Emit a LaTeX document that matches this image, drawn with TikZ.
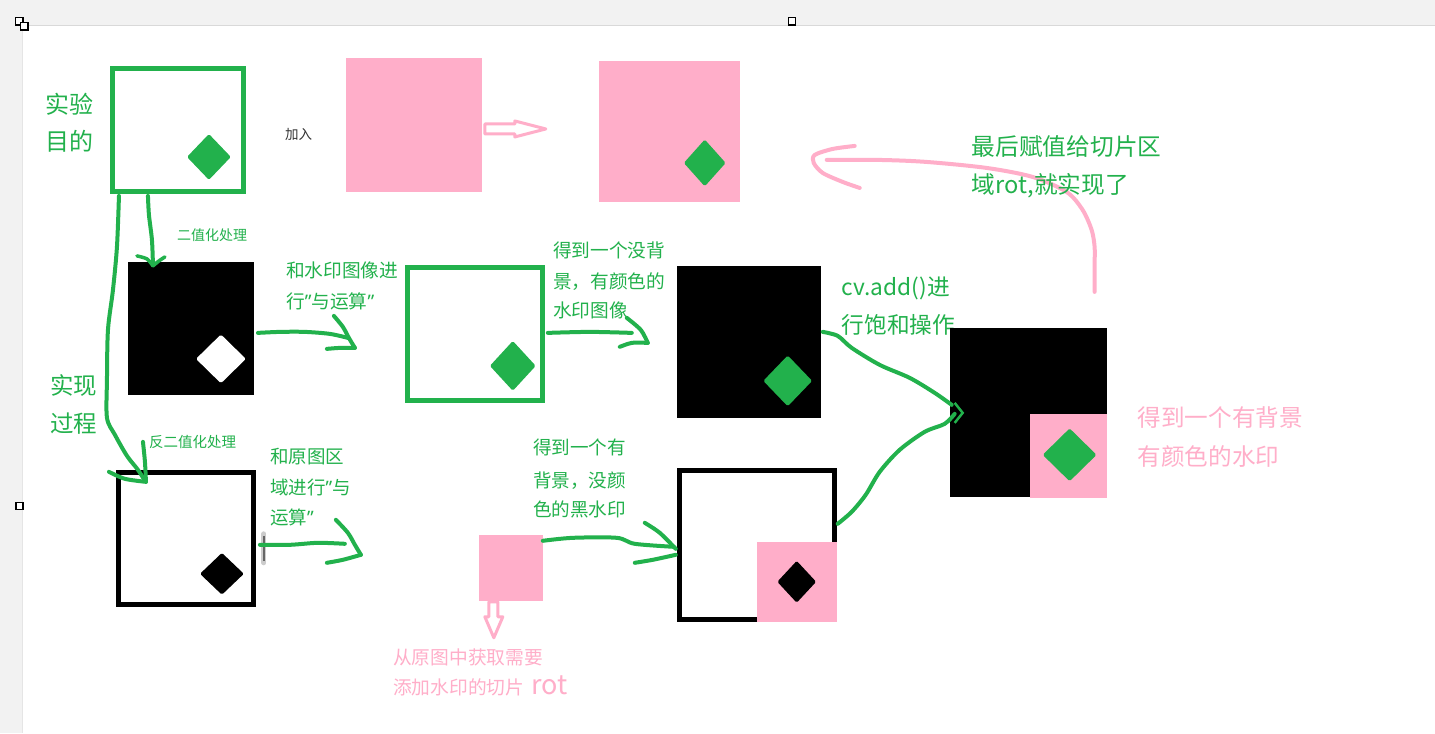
\documentclass[tikz,border=0pt]{standalone}
\usepackage{fontspec}
\setmainfont{Noto Sans CJK SC}
\newfontfamily\qf{Noto Sans}
\usetikzlibrary{shapes.geometric}
\definecolor{pgreen}{HTML}{22B14C}
\definecolor{ppink}{HTML}{FFAEC9}
\definecolor{bggray}{HTML}{F2F2F2}
\tikzset{
  fs/.style={font=\fontsize{#1}{#1}\selectfont},
  gtxt/.style={text=pgreen, anchor=base west, inner sep=0},
  ptxt/.style={text=ppink, anchor=base west, inner sep=0},
  stroke/.style={draw=pgreen, line width=4, line cap=round, line join=round},
  pstroke/.style={draw=ppink, line width=4, line cap=round, line join=round},
  gbox/.style={draw=pgreen, line width=5, fill=white, inner sep=0},
  kbox/.style={draw=black, line width=5, fill=white, inner sep=0},
  bbox/.style={fill=black, draw=none, inner sep=0},
  pbox/.style={fill=ppink, draw=none, inner sep=0},
  dmd/.style={diamond, draw=none, inner sep=0, rounded corners=1.5},
  hollow/.style={draw=ppink, line width=3, fill=white, line join=round},
  handle/.style={draw=black, line width=1.2, fill=white}
}
\begin{document}
\begin{tikzpicture}[x=1pt,y=-1pt]
% background
\fill[bggray] (0,0) rectangle (1435,733);
\fill[white] (23,26) rectangle (1435,733);
\draw[black!15, line width=1] (23,25.5) -- (1435,25.5);
\draw[black!10, line width=1] (22.5,26) -- (22.5,733);
\useasboundingbox (0,0) rectangle (1435,733);
% handles
\draw[handle] (15.5,17.5) rectangle (23,25);
\draw[handle] (20.5,22.5) rectangle (28,30);
\draw[handle] (788.5,17.5) rectangle (795.5,25);
\draw[handle] (16,503) rectangle (23,510);

% pink return curve
\draw[pstroke] plot[smooth] coordinates {(1095,292) (1095,265) (1095,247) (1092,230) (1083,210) (1067,192) (1033,177) (987,168) (927,162) (880,160) (827,160)};
\draw[pstroke] plot[smooth] coordinates {(855,146) (833,149) (815,155) (814,163) (823,173) (843,182) (860,188)};

% texts
\node[gtxt, fs=24] (t1a) at (45,114) {实验};
\node[gtxt, fs=24] (t1b) at (45,151) {目的};
\node[anchor=base west, inner sep=0, text=black!80, fs=13.5] (jr) at (285,140) {加入};
\node[gtxt, fs=14] (ez) at (177,241) {二值化处理};
\node[gtxt, fs=18.7] (h1) at (286,278) {和水印图像进};
\node[gtxt, fs=18.7] (h2) at (286,309) {行{\qf ”}与运算{\qf ”}};
\node[gtxt, fs=18.7] (m1) at (553,258) {得到一个没背};
\node[gtxt, fs=18.7] (m2) at (553,289) {景，有颜色的};
\node[gtxt, fs=18.7] (m3) at (553,318) {水印图像};
\node[gtxt, fs=22.7] (c1) at (842,296) {cv.add()进};
\node[gtxt, fs=22.7] (c2) at (842,334) {行饱和操作};
\node[gtxt, fs=23.7] (z1) at (972,156) {最后赋值给切片区};
\node[gtxt, fs=23.7] (z2) at (972,194) {域rot,就实现了};
\node[gtxt, fs=23.5] (s1) at (50,395) {实现};
\node[gtxt, fs=23.5] (s2) at (50,433) {过程};
\node[gtxt, fs=14.5] (fz) at (149,448) {反二值化处理};
\node[gtxt, fs=18.5] (y1) at (270,464) {和原图区};
\node[gtxt, fs=18.5] (y2) at (270,495) {域进行{\qf ”}与};
\node[gtxt, fs=18.5] (y3) at (270,525) {运算{\qf ”}};
\node[gtxt, fs=18.6] (n1) at (533,455) {得到一个有};
\node[gtxt, fs=18.6] (n2) at (533,488) {背景，没颜};
\node[gtxt, fs=18.6] (n3) at (533,517) {色的黑水印};
\node[ptxt, fs=23.6] (r1) at (1138,427) {得到一个有背景};
\node[ptxt, fs=23.6] (r2) at (1138,466) {有颜色的水印};
\node[ptxt, fs=18.75] (q1) at (393,665) {从原图中获取需要};
\node[ptxt, fs=18.75] (q2) at (393,695) {添加水印的切片\hspace{7pt}{\fontsize{27}{27}\selectfont rot}};

% boxes
\node[gbox, minimum width=131, minimum height=123] (A) at (178,130) {};
\node[dmd, fill=pgreen, minimum width=44, minimum height=46] (dA) at (209,157) {};
\node[pbox, minimum width=136, minimum height=134] (P1) at (414,125) {};
\node[pbox, minimum width=141, minimum height=141] (P2) at (669.5,131.5) {};
\node[dmd, fill=pgreen, minimum width=42, minimum height=47] (dP2) at (705,163) {};
\node[bbox, minimum width=126, minimum height=133] (B1) at (191,328.5) {};
\node[dmd, fill=white, minimum width=50, minimum height=49] (dB1) at (221,359) {};
\node[gbox, minimum width=135, minimum height=133] (C) at (475,334) {};
\node[dmd, fill=pgreen, minimum width=46, minimum height=50] (dC) at (513,366) {};
\node[bbox, minimum width=144, minimum height=152] (B3) at (749,342) {};
\node[dmd, fill=pgreen, minimum width=49, minimum height=51] (dB3) at (788,381) {};
\node[bbox, minimum width=157, minimum height=169] (B4) at (1028.5,412.5) {};
\node[pbox, minimum width=77, minimum height=84] (P4) at (1068.5,456) {};
\node[dmd, fill=pgreen, minimum width=54, minimum height=53] (dB4) at (1070,455) {};
\node[kbox, minimum width=135, minimum height=132] (D) at (186,538.5) {};
\node[dmd, fill=black, minimum width=44, minimum height=42] (dD) at (222,574) {};
\node[pbox, minimum width=64, minimum height=66] (P3) at (511,568) {};
\node[kbox, minimum width=155, minimum height=149] (E) at (757,545) {};
\node[pbox, minimum width=80, minimum height=80] (P5) at (797,582) {};
\node[dmd, fill=black, minimum width=39, minimum height=42] (dE) at (797,582) {};

% gray blurred mark
\draw[black!20, line width=5, line cap=round] (264,534) -- (264,563);
\draw[black!60, line width=2] (264,536) -- (264,561);

% pink hollow arrows
\draw[hollow] (485,124) -- (515,124) -- (515,121) -- (546,129) -- (515,137) -- (515,134) -- (485,134) -- cycle;
\draw[hollow] (489,602) -- (498,602) -- (498,617) -- (503,617) -- (494,638) -- (485,617) -- (489,617) -- cycle;

% green hand-drawn arrows
% A -> B1
\draw[stroke] plot[smooth] coordinates {(148,196) (149,215) (152,240) (153,265)};
\draw[stroke, line width=3.5] plot[smooth] coordinates {(137,256) (147,259) (153,266)};
\draw[stroke, line width=3.5] plot[smooth] coordinates {(165,257) (159,261) (153,266)};
% A -> D
\draw[stroke] plot[smooth] coordinates {(119,196) (117,247) (113,290) (108,330) (107,380) (107,418) (115,435) (127,456) (138,470) (145,481)};
\draw[stroke] plot[smooth] coordinates {(143,442) (145,462) (146,482)};
\draw[stroke] plot[smooth] coordinates {(109,472) (125,479) (146,482)};
% B1 -> C
\draw[stroke] plot[smooth] coordinates {(258,333) (280,332) (305,332) (330,334) (348,338)};
\draw[stroke] plot[smooth] coordinates {(334,316) (343,327) (349,338) (355,348)};
\draw[stroke] plot[smooth] coordinates {(327,349) (340,348) (355,348)};
% C -> B3
\draw[stroke] plot[smooth] coordinates {(548,333) (590,332) (632,333)};
\draw[stroke] plot[smooth] coordinates {(627,318) (641,330) (648,343)};
\draw[stroke] plot[smooth] coordinates {(620,347) (632,343) (648,343)};
% B3 -> B4
\draw[stroke] plot[smooth] coordinates {(823,332) (838,336) (852,348) (880,365) (910,378) (935,393) (952,405)};
% E -> B4
\draw[stroke] plot[smooth] coordinates {(838,524) (852,512) (866,495) (880,472) (900,450) (925,432) (945,424) (955,414)};
\draw[pgreen, line width=2.5] (955,403) -- (963,413) -- (955,423);
% D -> (and)
\draw[stroke] plot[smooth] coordinates {(260,545) (290,545) (318,543) (345,544)};
\draw[stroke] plot[smooth] coordinates {(336,520) (348,533) (355,545) (361,555)};
\draw[stroke] plot[smooth] coordinates {(327,563) (343,560) (361,555)};
% P3 -> E
\draw[stroke] plot[smooth] coordinates {(543,541) (573,538) (617,538) (635,544) (674,547)};
\draw[stroke] plot[smooth] coordinates {(645,523) (660,533) (676,549)};
\draw[stroke] plot[smooth] coordinates {(635,563) (653,560) (676,555)};
\end{tikzpicture}
\end{document}
